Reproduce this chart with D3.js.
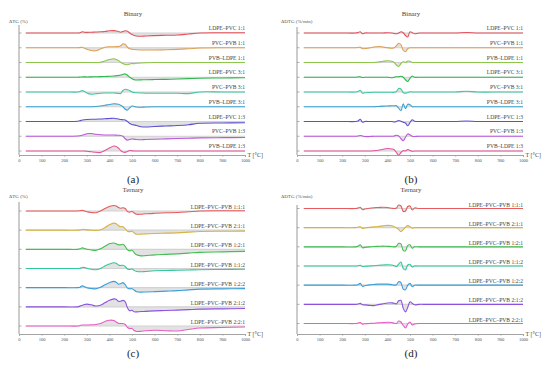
<!DOCTYPE html>
<html><head><meta charset="utf-8">
<script src="https://cdn.jsdelivr.net/npm/d3@7"></script>
<style>
html,body{margin:0;padding:0;background:#fff;}
svg{display:block;}
text{font-family:"Liberation Serif","Times New Roman",serif;}
</style></head>
<body>
<svg id="chart" width="550" height="367"></svg>
<script>
// Temperature grid (°C)
const T = [30,100,200,260,270,280,290,300,320,340,360,380,400,420,430,440,450,460,470,480,490,500,510,520,540,560,600,650,700,750,800,900,1000];
const xTicks = [0,100,200,300,400,500,600,700,800,900,1000];

const binaryLabels = ["LDPE–PVC 1:1","PVC–PVB 1:1","PVB–LDPE 1:1","LDPE–PVC 3:1","PVC–PVB 3:1","PVB–LDPE 3:1","LDPE–PVC 1:3","PVC–PVB 1:3","PVB–LDPE 1:3"];
const ternaryLabels = ["LDPE–PVC–PVB 1:1:1","LDPE–PVC–PVB 2:1:1","LDPE–PVC–PVB 1:2:1","LDPE–PVC–PVB 1:1:2","LDPE–PVC–PVB 1:2:2","LDPE–PVC–PVB 2:1:2","LDPE–PVC–PVB 2:2:1"];

const binaryColors = ["#e4525c","#dea055","#8cc64a","#2fb64f","#3ccaa2","#3aa2d2","#5b51d0","#bd57dc","#e8529e"];
const ternaryColors = ["#e85a5c","#d6b443","#44bf52","#33c89a","#3a9fd9","#8b52e0","#e95cc6"];

// ΔTG binary
const binaryTG = [
 [0,0,0,0,0.3,1.2,0.8,0.6,0.8,1,1.2,1.5,2.2,2.4,2,1.5,0.8,1.5,2.2,1.8,0,-1.5,-2.5,-3,-3.2,-3,-2.6,-2.3,-2,-1,0,0.2,0.2],
 [0,0,0,0,0.2,0.5,-0.5,-1.5,-2.8,-3,-1.2,0.5,1,1,1.1,1.2,2,4,3.5,0.5,-1,-1.5,-1.8,-2,-2.2,-2.3,-2.2,-2,-1.6,-1,-0.3,0,0],
 [0,0,0,0,0,0,0,0,0,0,0.3,1.5,3,3.7,3,2,0.3,-1,-2,-2.3,-1.5,-1,-1.2,-0.8,-0.5,-0.3,0,0,0,0,0,0,0],
 [0,0,0,0,0.2,0.3,0.4,0.3,0.4,0.5,0.6,0.8,1,1.2,1.5,1.8,2.2,3,3.3,2,0,-1.5,-2.5,-2.7,-2.6,-2.5,-2.3,-2.1,-1.8,-1.4,-1,-0.7,-0.5],
 [0,0,0,0,0.5,1.5,0.5,-1,-2.3,-1.8,-1.3,-1,-1,-1,-1.2,-1.5,-1.5,1.5,2.7,2.3,1.5,0,-0.5,-0.8,-1,-1.2,-1.2,-1.2,-1.3,-1.6,0,0,0],
 [0,0,0,0,0,0,0,0,0,0.3,0.8,1.5,2.3,3,2.8,2.5,1.5,0,-2.5,-3.3,-1,0.7,0.3,-0.3,-0.5,-0.3,0,0,0,0,0,0,0],
 [0,0,0,0.3,0.8,1.5,1.8,2,2.2,2.3,2.5,2.7,3,3.2,2.8,2.5,2,1.8,1.5,0,-2,-3,-3.5,-4,-5.2,-5.5,-5,-4.5,-4,-3.2,-1.8,-1.5,-1.3],
 [0,0,0,0.3,0.5,1,1.8,2.5,2.7,2,1.5,1.3,1.3,1.2,1.1,1,0.8,0,-2.5,-4,-3.3,-2.7,-3,-3.3,-3.5,-3.3,-3,-2.6,-2.3,-2,-1.6,-1.4,-1.3],
 [0,0,0,0,0,0,0,-0.3,-0.8,-1.3,-1.5,0.5,3,5,4.5,3,0.5,-1,-1.3,-0.5,0.5,0.3,0,0,0,0,0,0,0,0,0,0,0]
];

// ΔDTG binary
const binaryDTG = [
 [0,0,0,0,0.5,1.3,-0.8,0,0,0,0,0,0.3,0,-0.5,-0.8,0,1.2,0.3,-2.5,-4,1.2,0.3,-0.8,0,0,0,0,0,0.5,0,0,0],
 [0,0,0,0,0.3,0.5,-1,-0.8,-0.3,0.8,1.3,0.8,0,-0.5,0,2,4.5,3,-2.5,-4,-1,0,0,0,0,0,0,0,0,0,0,0,0],
 [0,0,0,0,0,0,0,0,0,0,0.5,1.2,1.7,1.2,0,-2.5,-4,-1,0.8,0,1.5,1.2,0,0,0,0,0,0,0,0,0,0,0],
 [0,0,0,0,0.3,0.5,-0.3,0,0,0,0,0,0,-0.5,0,0.5,0.5,1,0,-2.5,-4.3,-1,1.2,0,0,0,0,0,0,0,0,0,0],
 [0,0,0,0,0.5,1.8,-1.2,-0.8,-0.5,-0.3,-0.3,-0.2,-0.2,-0.3,-0.3,0.5,3.5,3,-0.5,-1.3,-0.5,0.3,0,0,0,0,0,0,0,0.7,0,0,0],
 [0,0,0,0,0,0,0,0,0,0,0.3,0.6,0.8,1,1,1,-1.5,-4,3,-2,2.5,2,0,0,0,0,0,0,0,0,0,0,0],
 [0,0,0,0,0.5,2.3,-0.8,0,0,0,0,0,0,0,-0.5,0,1,0.3,-0.7,-1.5,-4.3,-1,1.8,0.3,0,0,0,0,0,0.5,0,0,0],
 [0,0,0,0,0.3,0.8,0.3,-0.3,-0.3,0,0,0,0,0,0.3,1,0.3,-2.5,-4.5,-1,2.3,1.5,0,-0.3,0,0,0,0,0,0,0,0,0],
 [0,0,0,0,0,0,0,0,0,0.3,0.8,1.7,2.5,2,1.2,-1.5,-4.3,-1.5,0.3,0,1.5,0.5,-0.3,0,0,0,0,0,0,0,0,0,0]
];

// ΔTG ternary
const ternaryTG = [
 [0,0,0,0,0.3,0.6,0,-0.8,-1.5,-1.7,0,2.5,4.5,5.5,5,3.5,2.8,3.3,2.5,-0.5,-1.2,-0.5,-2,-3.3,-3.2,-2.8,-2.3,-1.8,-1.5,-0.8,0,0.2,0.2],
 [0,0,0,0,0.3,0.7,0.7,0.3,0,-0.2,0.5,2.5,5.5,7,6.5,4.5,3.5,3.5,1.5,-1,-1.5,-1,-2.8,-4,-4,-3.7,-3.3,-3,-2.7,-2,-1.3,-1.1,-1],
 [0,0,0,0,0.5,1.5,0.8,0,-0.7,-1,0.5,3,5.5,6.3,5.5,4.5,4.5,5,3,-0.5,-1.5,-1,-3.5,-5.5,-6.5,-6.3,-5.5,-5,-4.5,-3.8,-3,-2.5,-2],
 [0,0,0,0,0.3,1,1,0.3,-0.8,-1.3,0,2.5,4.5,5.7,5.2,3.5,3,3.3,2,-0.5,-1,-0.5,-2,-3,-3.3,-3,-2.3,-2,-1.8,-1.5,-1.2,-1,-0.8],
 [0,0,0,0,0.5,1.8,1,0,-0.8,-1.2,0.3,3,5,6.3,5.5,3.5,4,5,3,-0.5,-1.2,-1,-2.5,-4,-4.5,-4.3,-4,-3.5,-3,-2.2,-1.5,-1.2,-1],
 [0,0,0,0,0.7,1.5,2.3,2.7,2,0.8,1.5,4,6.5,8,7.5,5.5,5.5,6.5,5,-1,-4,-3.5,-5,-5,-4.7,-4.5,-4,-3.7,-3.3,-2.8,-2.3,-2,-1.7],
 [0,0,0,0,0.5,1,1,1,1.2,1.5,2.5,4.5,5.8,5.5,4,2.8,2.5,2.5,1.5,-1.5,-2.5,-2.5,-4.5,-5.5,-5.3,-4.8,-4.3,-4.7,-5,-3.5,-2,-1.5,-1]
];

// ΔDTG ternary
const ternaryDTG = [
 [0,0,0,0,0.5,1.3,-1.2,-0.5,0.3,0.8,1,1.2,1,0.3,0,0.5,3.5,2.5,-3,-2.5,2,2.5,-1.5,0.5,0,0,0,0,0,0,0,0,0],
 [0,0,0,0,0.5,1,-0.7,-0.3,0.3,0.8,1.2,1.8,2.3,2,1,0,-2,-4,-2,0.5,2,1,-0.5,0,0,0,0,0,0,0,0,0,0],
 [0,0,0,0,0.7,2,-1,-0.5,0,0.3,0.5,0.7,0.5,0.3,0,0.5,3.5,3,-3.5,-4,1.5,2,-1.5,0,0,0,0,0,0,0,0,0,0],
 [0,0,0,0,0.3,0.8,-0.5,-0.3,0,0.3,0.7,1,1.3,1,0.3,-0.5,2,4,-2.5,-4,1,1.7,-1,0,0,0,0,0,0,0,0,0,0],
 [0,0,0,0,0.5,1.8,-1.2,-0.5,0.3,0.7,1,1,1,0.5,0,0.5,3.5,2.5,-4,-4.5,0,1.8,-1.5,0,0,0,0,0,0,0,0,0,0],
 [0,0,0,0,0.3,1,-0.5,-0.5,-1,-1.3,-0.3,0.5,1.3,1.5,1,0.5,3.5,4,-4,-7.5,-3,2.5,1,-0.5,0,0,0,0,0,0,0,0,0],
 [0,0,0,0,0.5,1,-0.7,-0.3,0,0.3,0.7,1,1.2,1,0.3,0,2.5,1.5,-2,-4.5,-0.5,1.5,-1.5,-0.5,0,0,0,0,0,0,0,0,0]
];

const panels = [
 {x0:19, x1:245, rowTop:33, rowBot:151, axisY:155, axisTop:25, title:"Binary", titleY:15.5, yLab:"ΔTG (%)", yLabX:9, yLabY:23, labels:binaryLabels, colors:binaryColors, data:binaryTG, tag:"(a)", tagY:182.5, labDy:-3},
 {x0:297, x1:523, rowTop:33, rowBot:151, axisY:155, axisTop:27, title:"Binary", titleY:15.5, yLab:"ΔDTG (%/min)", yLabX:281, yLabY:23, labels:binaryLabels, colors:binaryColors, data:binaryDTG, tag:"(b)", tagY:182.5, labDy:-3},
 {x0:19, x1:245, rowTop:211, rowBot:326, axisY:334, axisTop:202, title:"Ternary", titleY:191.5, yLab:"ΔTG (%)", yLabX:9, yLabY:198, labels:ternaryLabels, colors:ternaryColors, data:ternaryTG, tag:"(c)", tagY:357, labDy:-2},
 {x0:297, x1:523, rowTop:208.5, rowBot:323.5, axisY:334, axisTop:205, title:"Ternary", titleY:191.5, yLab:"ΔDTG (%/min)", yLabX:281, yLabY:198, labels:ternaryLabels, colors:ternaryColors, data:ternaryDTG, tag:"(d)", tagY:357, labDy:-2}
];

const svg = d3.select("#chart");

panels.forEach(p => {
  const g = svg.append("g");
  const x = d3.scaleLinear().domain([0,1000]).range([p.x0, p.x1]);
  const row = d3.scalePoint().domain(p.labels).range([p.rowTop, p.rowBot]);
  const amp = d3.scaleLinear().domain([0,1]).range([0,-1]); // value -> pixel offset

  g.append("text").attr("x",(p.x0+p.x1)/2+1).attr("y",p.titleY).attr("text-anchor","middle")
    .attr("font-size",6.8).attr("fill","#444").text(p.title);
  g.append("text").attr("x",p.yLabX).attr("y",p.yLabY)
    .attr("font-size",5).attr("fill","#555").text(p.yLab);

  p.labels.forEach((lab,i) => {
    const y0 = row(lab);
    const pts = T.map((t,k)=>({t, v:p.data[i][k]}));
    const area = d3.area().x(d=>x(d.t)).y0(y0).y1(d=>y0+amp(d.v)).curve(d3.curveCatmullRom.alpha(0.5));
    const line = d3.line().x(d=>x(d.t)).y(d=>y0+amp(d.v)).curve(d3.curveCatmullRom.alpha(0.5));
    g.append("path").attr("d",area(pts)).attr("fill","#e2e2e2");
    g.append("line").attr("x1",x(T[0])).attr("x2",x(1000)).attr("y1",y0).attr("y2",y0)
      .attr("stroke","#d2d2d2").attr("stroke-width",1.1);
    g.append("line").attr("x1",p.x0).attr("x2",p.x0+2.5).attr("y1",y0).attr("y2",y0)
      .attr("stroke","#999").attr("stroke-width",0.8);
    g.append("path").attr("d",line(pts)).attr("fill","none").attr("stroke",p.colors[i])
      .attr("stroke-width",1.1).attr("stroke-linejoin","round");
    g.append("text").attr("x",p.x1).attr("y",y0+p.labDy).attr("text-anchor","end")
      .attr("font-size",5.6).attr("fill","#444").text(lab);
  });

  g.append("line").attr("x1",p.x0).attr("x2",p.x0).attr("y1",p.axisTop).attr("y2",p.axisY)
    .attr("stroke","#999").attr("stroke-width",1);

  const ax = g.append("g").attr("transform",`translate(0,${p.axisY})`)
    .call(d3.axisBottom(x).tickValues(xTicks).tickSize(1.8).tickPadding(1.5).tickFormat(d3.format("d")));
  ax.select(".domain").attr("stroke","#999").attr("stroke-width",0.9);
  ax.selectAll(".tick line").attr("stroke","#999").attr("stroke-width",0.6);
  ax.selectAll(".tick text").attr("font-size",4.6).attr("fill","#555")
    .attr("font-family","'Liberation Serif',serif");
  g.append("text").attr("x",p.x1+2.5).attr("y",p.axisY+2).attr("font-size",6).attr("fill","#444").text("T [°C]");

  g.append("text").attr("x",(p.x0+p.x1)/2+1).attr("y",p.tagY).attr("text-anchor","middle")
    .attr("font-size",11).attr("fill","#222").text(p.tag);
});
</script>
</body></html>
